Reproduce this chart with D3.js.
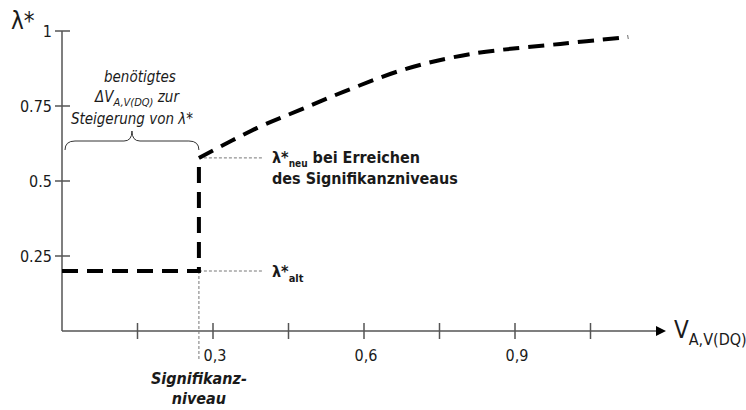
<!DOCTYPE html>
<meta charset="utf-8">
<style>
    body { margin: 0; background: #fff; }
    svg text { font-family: "DejaVu Sans Condensed", "DejaVu Sans", sans-serif; font-stretch: condensed; fill: #1a1a1a; }
    .axis { stroke: #555; stroke-width: 1.5; fill: none; }
    .main { stroke: #000; stroke-width: 4; fill: none; stroke-dasharray: 16,9; }
    .guide { stroke: #777; stroke-width: 1; fill: none; stroke-dasharray: 3,2; }
</style>
<body>
<svg width="746" height="410"></svg>
</body>
<script src="https://cdn.jsdelivr.net/npm/d3@7"></script>
<script>

    // values
    var yTicks = [0.25, 0.5, 0.75, 1];
    var yTickLabels = ["0.25", "0.5", "0.75", "1"];
    var xTicks = [0.15, 0.3, 0.45, 0.6, 0.75, 0.9, 1.05];
    var xTickLabels = ["", "0,3", "", "0,6", "", "0,9", ""];

    var sigLevel = 0.272;     // Signifikanzniveau
    var lambdaAlt = 0.2;
    var lambdaNeu = 0.577;

    var curveX = [0.272, 0.388, 0.473, 0.559, 0.682, 0.811, 0.990, 1.125];
    var curveY = [0.577, 0.677, 0.737, 0.797, 0.873, 0.923, 0.957, 0.980];

    var svg = d3.select("svg");

    var x = d3.scaleLinear().domain([0, 1.2]).range([62, 666]);
    var y = d3.scaleLinear().domain([0, 1]).range([331, 31]);

    // axes
    svg.append("line").attr("class", "axis")
        .attr("x1", x(0)).attr("x2", x(0)).attr("y1", y(0)).attr("y2", y(1));
    svg.append("line").attr("class", "axis")
        .attr("x1", x(0)).attr("x2", x(1.2) - 8).attr("y1", y(0)).attr("y2", y(0));
    svg.append("path")
        .attr("d", "M" + x(1.2) + "," + y(0) + "l-10,-5v10z")
        .attr("fill", "#000");

    svg.selectAll(".ytick").data(yTicks).enter().append("line")
        .attr("class", "axis")
        .attr("x1", x(0) - 7).attr("x2", x(0) + 8)
        .attr("y1", function (d) { return y(d); })
        .attr("y2", function (d) { return y(d); });

    svg.selectAll(".ylab").data(yTicks).enter().append("text")
        .attr("x", 52)
        .attr("y", function (d) { return y(d) + 6; })
        .attr("text-anchor", "end")
        .style("font-size", "16px")
        .text(function (d, i) { return yTickLabels[i]; });

    svg.selectAll(".xtick").data(xTicks).enter().append("line")
        .attr("class", "axis")
        .attr("x1", function (d) { return x(d); })
        .attr("x2", function (d) { return x(d); })
        .attr("y1", y(0) - 8).attr("y2", y(0) + 8);

    svg.selectAll(".xlab").data(xTicks).enter().append("text")
        .attr("x", function (d) { return x(d) + 2; })
        .attr("y", 361)
        .attr("text-anchor", "middle")
        .style("font-size", "16px")
        .text(function (d, i) { return xTickLabels[i]; });

    // axis titles
    svg.append("text").attr("x", 11).attr("y", 29)
        .style("font-size", "24px").style("font-family", "DejaVu Sans")
        .text("λ*");

    var xt = svg.append("text").attr("x", 674).attr("y", 338)
        .style("font-size", "24px");
    xt.append("tspan").text("V");
    xt.append("tspan").attr("dy", 7).style("font-size", "16px").text("A,V(DQ)");

    // guide lines
    svg.append("line").attr("class", "guide")
        .attr("x1", x(sigLevel)).attr("x2", x(sigLevel))
        .attr("y1", y(lambdaAlt)).attr("y2", 361);
    svg.append("line").attr("class", "guide")
        .attr("x1", x(sigLevel)).attr("x2", 262)
        .attr("y1", y(lambdaAlt)).attr("y2", y(lambdaAlt));
    svg.append("line").attr("class", "guide")
        .attr("x1", x(sigLevel)).attr("x2", 262)
        .attr("y1", y(lambdaNeu)).attr("y2", y(lambdaNeu));

    // main line: step, then curve
    var step = [[0, lambdaAlt], [sigLevel, lambdaAlt], [sigLevel, lambdaNeu]];
    var line = d3.line().x(function (d) { return x(d[0]); }).y(function (d) { return y(d[1]); });
    svg.append("path").attr("class", "main").attr("d", line(step));

    var curvePts = curveX.map(function (v, i) { return [v, curveY[i]]; });
    svg.append("path").attr("class", "main")
        .attr("d", line.curve(d3.curveCatmullRom.alpha(0.5))(curvePts));

    // brace over the needed delta
    var bx0 = x(0) + 3, bx1 = x(sigLevel), bm = (bx0 + bx1) / 2, by = 150;
    svg.append("path")
        .attr("d", "M" + bx0 + "," + by + "q0,-9 10,-9" + "H" + (bm - 8) + "q8,0 8,-10" +
            "q0,10 8,10" + "H" + (bx1 - 10) + "q10,0 10,9")
        .attr("fill", "none").attr("stroke", "#333").attr("stroke-width", 1);

    var braceText = svg.append("g").style("font-style", "italic").style("font-size", "15px");
    braceText.append("text").attr("x", bm + 8).attr("y", 82).attr("text-anchor", "middle").text("benötigtes");
    var dv = braceText.append("text").attr("x", bm + 5).attr("y", 102).attr("text-anchor", "middle");
    dv.append("tspan").text("ΔV");
    dv.append("tspan").attr("dy", 4).style("font-size", "11px").text("A,V(DQ)");
    dv.append("tspan").attr("dy", -4).text(" zur");
    braceText.append("text").attr("x", bm).attr("y", 124).attr("text-anchor", "middle").text("Steigerung von λ*");

    // right side labels
    var neu = svg.append("text").attr("x", 272).attr("y", 163)
        .style("font-weight", "bold").style("font-size", "16px");
    neu.append("tspan").text("λ*");
    neu.append("tspan").attr("dy", 4).style("font-size", "10px").text("neu");
    neu.append("tspan").attr("dy", -4).text(" bei Erreichen");
    svg.append("text").attr("x", 272).attr("y", 184)
        .style("font-weight", "bold").style("font-size", "16px")
        .text("des Signifikanzniveaus");

    var alt = svg.append("text").attr("x", 272).attr("y", 277)
        .style("font-weight", "bold").style("font-size", "16px");
    alt.append("tspan").text("λ*");
    alt.append("tspan").attr("dy", 5).style("font-size", "11px").text("alt");

    // significance label under the axis
    var sig = svg.append("g").style("font-weight", "bold").style("font-style", "italic").style("font-size", "16px");
    sig.append("text").attr("x", x(sigLevel)).attr("y", 384).attr("text-anchor", "middle").text("Signifikanz-");
    sig.append("text").attr("x", x(sigLevel)).attr("y", 404).attr("text-anchor", "middle").text("niveau");

</script>
